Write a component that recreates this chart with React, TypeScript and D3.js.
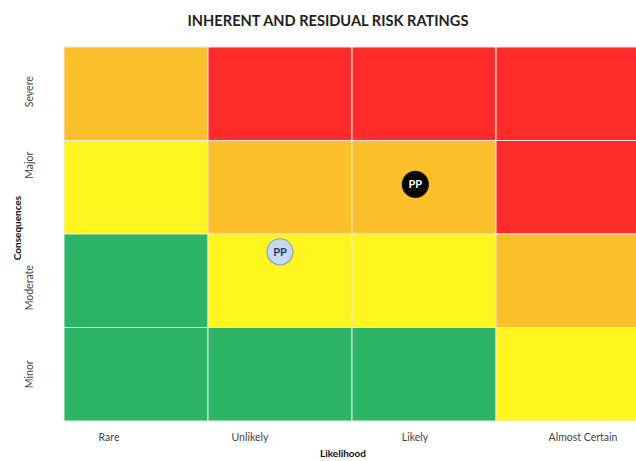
import React from "react";
import * as d3 from "d3";

// Axis categories
const likelihood = ["Rare", "Unlikely", "Likely", "Almost Certain"];
const consequences = ["Severe", "Major", "Moderate", "Minor"]; // top to bottom

// Risk level per cell, one array per consequence row (Rare → Almost Certain)
const severeRow = ["High", "Extreme", "Extreme", "Extreme"];
const majorRow = ["Medium", "High", "High", "Extreme"];
const moderateRow = ["Low", "Medium", "Medium", "High"];
const minorRow = ["Low", "Low", "Low", "Medium"];

// Plotted risk markers
const markerKinds = ["Inherent", "Residual"];
const markerLabels = ["PP", "PP"];
const markerLikelihood = ["Likely", "Unlikely"];
const markerConsequence = ["Major", "Moderate"];

const W = 636;
const H = 461;

const levelColor: Record<string, string> = {
  Low: "#2cb566",
  Medium: "#fff51f",
  High: "#fec02a",
  Extreme: "#fe2b2b",
};

// Where each marker sits inside its cell (fraction of cell width / height)
const markerFrac = [
  [0.44, 0.47],
  [0.5, 0.19],
];
// Tick label nudges
const xLabelShift = [-27, -30, -9, 15];
const yLabelShift = [-2, -22, 7, 0];

export default function App() {
  const x = d3.scaleBand<string>().domain(likelihood).range([64, 640]);
  const y = d3.scaleBand<string>().domain(consequences).range([47, 421]);
  const rows = [severeRow, majorRow, moderateRow, minorRow];

  const cells = rows.flatMap((row, ri) =>
    row.map((lvl, ci) => ({ c: consequences[ri], l: likelihood[ci], lvl }))
  );

  const font = "Lato, 'Open Sans', sans-serif";

  return (
    <svg
      width={W}
      height={H}
      style={{ position: "absolute", left: 0, top: 0, background: "#fff" }}
      fontFamily={font}
    >
      <text
        x={328}
        y={26}
        textAnchor="middle"
        fontSize={14.6}
        fontWeight="bold"
        fill="#222"
      >
        INHERENT AND RESIDUAL RISK RATINGS
      </text>

      {cells.map((d, i) => (
        <rect
          key={i}
          x={x(d.l)!}
          y={y(d.c)!}
          width={x.bandwidth()}
          height={y.bandwidth()}
          fill={levelColor[d.lvl]}
          stroke="#ece8e0"
          strokeWidth={1}
        />
      ))}

      {likelihood.map((l, i) => (
        <text
          key={l}
          x={x(l)! + x.bandwidth() / 2 + xLabelShift[i]}
          y={441}
          textAnchor="middle"
          fontSize={10.5}
          fill="#444"
        >
          {l}
        </text>
      ))}
      <text x={343} y={457} textAnchor="middle" fontSize={10} fontWeight="bold" fill="#111">
        Likelihood
      </text>

      {consequences.map((c, i) => {
        const cy = y(c)! + y.bandwidth() / 2 + yLabelShift[i];
        return (
          <text
            key={c}
            transform={`translate(33,${cy}) rotate(-90)`}
            textAnchor="middle"
            fontSize={10.5}
            fill="#444"
          >
            {c}
          </text>
        );
      })}
      <text
        transform={`translate(21,228) rotate(-90)`}
        textAnchor="middle"
        fontSize={10}
        fontWeight="bold"
        fill="#111"
      >
        Consequences
      </text>

      {markerKinds.map((k, i) => {
        const cx = x(markerLikelihood[i])! + x.bandwidth() * markerFrac[i][0];
        const cy = y(markerConsequence[i])! + y.bandwidth() * markerFrac[i][1];
        const inherent = k === "Inherent";
        return (
          <g key={k} transform={`translate(${cx},${cy})`}>
            <circle
              r={13}
              fill={inherent ? "#050505" : "#c8daf2"}
              stroke={inherent ? "#1a1a1a" : "#8aa3c4"}
              strokeWidth={1.2}
            />
            <text
              y={4}
              textAnchor="middle"
              fontSize={11}
              fontWeight="bold"
              fill={inherent ? "#fff" : "#1f3a6b"}
            >
              {markerLabels[i]}
            </text>
          </g>
        );
      })}
    </svg>
  );
}
